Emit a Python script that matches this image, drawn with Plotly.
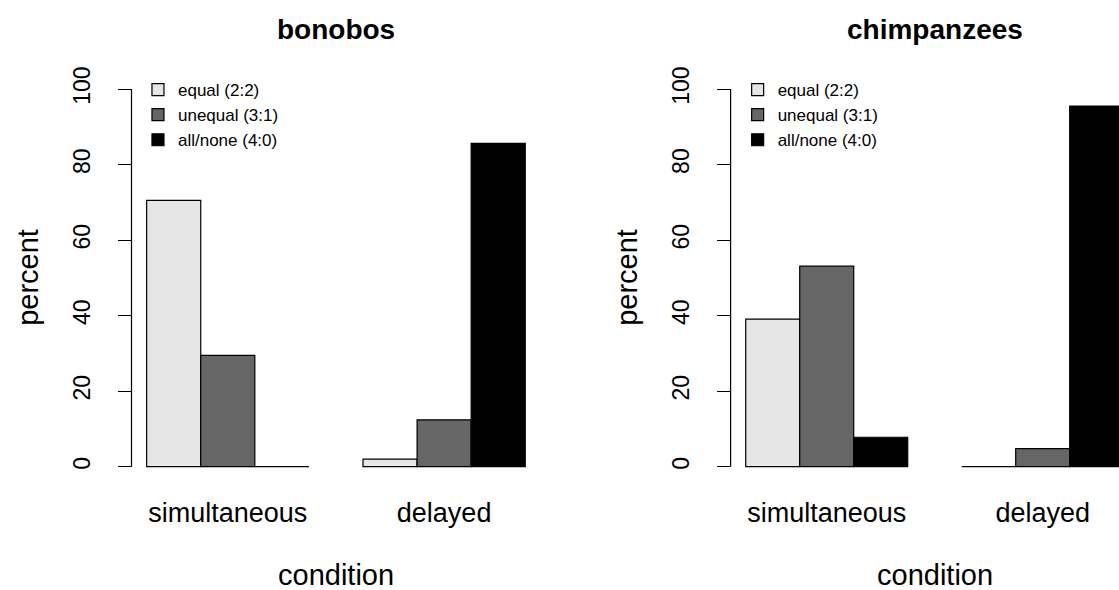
import plotly.graph_objects as go

# ---- data ----
conditions = ["simultaneous", "delayed"]
categories = ["equal (2:2)", "unequal (3:1)", "all/none (4:0)"]
bonobos_equal = [70.5, 2.0]
bonobos_unequal = [29.5, 12.4]
bonobos_allnone = [0.0, 85.6]
chimps_equal = [39.1, 0.0]
chimps_unequal = [53.1, 4.8]
chimps_allnone = [7.8, 95.5]
panel_titles = ["bonobos", "chimpanzees"]
y_ticks = [0, 20, 40, 60, 80, 100]

colors = ["#E6E6E6", "#666666", "#000000"]
FONT = "Liberation Sans, Arial, Helvetica, sans-serif"

fig = go.Figure()
panels = [
    ("x", "y", "legend", [bonobos_equal, bonobos_unequal, bonobos_allnone]),
    ("x2", "y2", "legend2", [chimps_equal, chimps_unequal, chimps_allnone]),
]
for xa, ya, lg, series in panels:
    for name, vals, col in zip(categories, series, colors):
        fig.add_trace(go.Bar(
            x=conditions, y=vals, name=name, xaxis=xa, yaxis=ya, legend=lg,
            marker=dict(color=col, line=dict(color="black", width=1.2)),
            hoverinfo="x+y+name",
        ))

ydom = [0.1834, 0.8747]
xaxis_common = dict(
    type="category", showline=False, showgrid=False, zeroline=False,
    ticks="", tickfont=dict(family=FONT, size=27, color="black"),
    ticklabelstandoff=12, fixedrange=True, automargin=False,
)
yaxis_common = dict(
    range=[-4, 104], tickvals=y_ticks, ticks="outside", ticklen=13,
    tickwidth=1.2, tickcolor="black", showline=False, showgrid=False,
    zeroline=False, tickangle=-90, ticklabelstandoff=18, automargin=False,
    tickfont=dict(family=FONT, size=23, color="black"), fixedrange=True,
)

fig.update_layout(
    width=1119, height=590,
    margin=dict(l=0, r=0, t=0, b=0, pad=0, autoexpand=False),
    paper_bgcolor="white", plot_bgcolor="white",
    barmode="group", bargap=0.25, bargroupgap=0,
    font=dict(family=FONT, color="black"),
    xaxis=dict(domain=[0.11752, 0.48293], range=[-0.445, 1.445], anchor="y", **xaxis_common),
    yaxis=dict(domain=ydom, anchor="x", **yaxis_common),
    xaxis2=dict(domain=[0.65291, 1.0], range=[-0.445, 1.3533], anchor="y2", **xaxis_common),
    yaxis2=dict(domain=ydom, anchor="x2", **yaxis_common),
    legend=dict(x=0.1233, y=(590 - 72) / 590, xanchor="left", yanchor="top",
                bgcolor="rgba(0,0,0,0)", borderwidth=0,
                font=dict(family=FONT, size=17, color="black")),
    legend2=dict(x=0.6592, y=(590 - 72) / 590, xanchor="left", yanchor="top",
                 bgcolor="rgba(0,0,0,0)", borderwidth=0,
                 font=dict(family=FONT, size=17, color="black")),
    showlegend=True,
)

# axis lines spanning only 0..100 (R style)
for xa, ya in [("x", "y"), ("x2", "y2")]:
    fig.add_shape(type="line", xref=f"{xa} domain", yref=ya,
                  x0=0, x1=0, y0=y_ticks[0], y1=y_ticks[-1],
                  line=dict(color="black", width=1.2))

annotations = []
for xa, title in [("x", panel_titles[0]), ("x2", panel_titles[1])]:
    annotations.append(dict(text=f"<b>{title}</b>", xref=xa, yref="paper",
                            x=0.5, y=(590 - 29) / 590, xanchor="center", yanchor="middle",
                            showarrow=False, font=dict(family=FONT, size=28, color="black")))
    annotations.append(dict(text="condition", xref=xa, yref="paper",
                            x=0.5, y=(590 - 575) / 590, xanchor="center", yanchor="middle",
                            showarrow=False, font=dict(family=FONT, size=29, color="black")))
for px in [28, 627]:
    annotations.append(dict(text="percent", xref="paper", yref="paper",
                            x=px / 1119, y=(ydom[0] + ydom[1]) / 2, xanchor="center",
                            yanchor="middle", textangle=-90, showarrow=False,
                            font=dict(family=FONT, size=29, color="black")))
fig.update_layout(annotations=annotations)

fig.write_html(
    "out.html",
    config={"displayModeBar": False},
    post_script="document.body.style.margin='0';document.body.style.overflow='hidden';",
)
